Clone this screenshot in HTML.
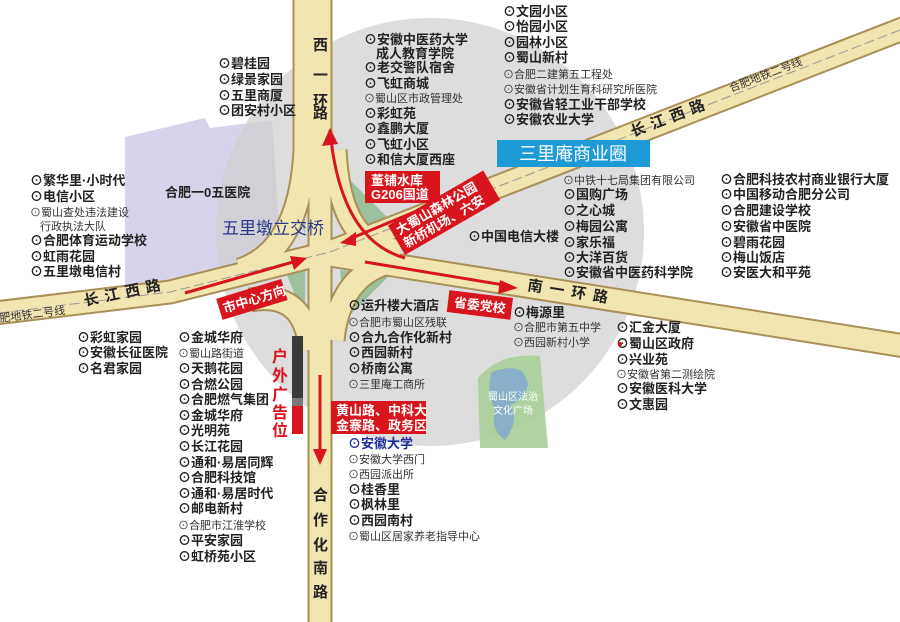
<!DOCTYPE html>
<html><head><meta charset="utf-8"><style>
html,body{margin:0;padding:0;background:#fff;}
svg{display:block}
text{font-family:"Liberation Sans","Noto Sans CJK SC",sans-serif;}
.b{font-size:13px;font-weight:bold;fill:#222}
.s{font-size:11px;fill:#333}
.w{font-weight:bold;fill:#fff;font-size:13px}
.r{font-size:15px;font-weight:bold;fill:#222}
</style></head><body>
<svg width="900" height="622" viewBox="0 0 900 622" xmlns="http://www.w3.org/2000/svg">
<rect width="900" height="622" fill="#fff"/>
<polygon points="125,137 205,118 210,128 272,120 282,275 125,288" fill="#d7d3ea"/>
<circle cx="430" cy="232" r="214" fill="#cfcfcf" opacity="0.7"/>
<path d="M478,378 Q500,352 540,356 L548,448 L480,448 Z" fill="#a9cf98" opacity="0.9"/>
<path d="M492,372 Q525,360 528,385 Q525,400 510,405 Q520,420 505,440 Q490,430 495,410 Q485,390 492,372Z" fill="#7ea7d2" opacity="0.8"/>
<text x="513" y="400" font-size="10" fill="#fff" text-anchor="middle">蜀山区法治</text>
<text x="513" y="414" font-size="10" fill="#fff" text-anchor="middle">文化广场</text>
<g fill="#9cbf9e">
<path d="M290,185 L305,180 L305,235 Z"/><path d="M340,170 L350,230 L395,225 Z"/>
<path d="M285,270 L305,270 L305,320 Z"/><path d="M340,270 L390,275 L345,320 Z"/>
</g>
<g stroke="#a89058" stroke-width="25" fill="none" stroke-linejoin="round">
<polyline points="-5,313 170,292 330,252 905,28"/>
<polyline points="330,255 905,346"/>
<line x1="320" y1="-5" x2="320" y2="630"/>
<path d="M240,270 Q300,250 305,150 L305,0"/>
<path d="M400,250 Q340,250 335,150"/>
<path d="M250,300 Q305,290 310,350"/>
<path d="M400,260 Q340,270 333,340"/>
</g>
<g stroke="#f2e6b0" stroke-width="21" fill="none" stroke-linejoin="round">
<polyline points="-5,313 170,292 330,252 905,28"/>
<polyline points="330,255 905,346"/>
<line x1="320" y1="-5" x2="320" y2="630"/>
<path d="M240,270 Q300,250 305,150 L305,0"/>
<path d="M400,250 Q340,250 335,150"/>
<path d="M250,300 Q305,290 310,350"/>
<path d="M400,260 Q340,270 333,340"/>
</g>
<polyline points="0,313 170,292 330,252 900,30" stroke="#999" stroke-width="1" stroke-dasharray="10,4" fill="none"/>
<g class="r">
<text x="313" y="50">西</text><text x="313" y="80">一</text><text x="313" y="106">环</text><text x="313" y="118">路</text>
<text x="313" y="500">合</text><text x="313" y="525">作</text><text x="313" y="550">化</text><text x="313" y="573">南</text><text x="313" y="597">路</text>
</g>
<text class="r" transform="translate(85,306) rotate(-12)" letter-spacing="6">长江西路</text>
<text class="r" transform="translate(633,137) rotate(-21)" letter-spacing="6">长江西路</text>
<text class="r" transform="translate(527,290) rotate(9)" letter-spacing="7">南一环路</text>
<text class="s" fill="#666" transform="translate(0,322) rotate(-7)">肥地铁二号线</text>
<text class="s" fill="#666" transform="translate(731,92) rotate(-21)">合肥地铁二号线</text>
<g stroke="#d8141c" stroke-width="3" fill="none">
<path d="M405,258 Q340,240 330,130"/>
<line x1="448" y1="198" x2="347" y2="240"/>
<line x1="185" y1="293" x2="300" y2="260"/>
<line x1="365" y1="262" x2="510" y2="286"/>
<line x1="320" y1="375" x2="320" y2="455"/>
</g>
<g fill="#d8141c">
<polygon points="330,128 322,146 338,144"/>
<polygon points="340,243 356,232 356,246"/>
<polygon points="307,258 290,256 294,270"/>
<polygon points="518,288 500,280 498,294"/>
<polygon points="320,465 313,449 327,449"/>
</g>
<rect x="365" y="171" width="75" height="32" fill="#d8141c"/>
<text class="w" x="371" y="185" font-size="12">董铺水库</text><text class="w" x="371" y="199" font-size="12">G206国道</text>
<g transform="translate(405,255) rotate(-30)"><rect x="0" y="-34" width="110" height="34" fill="#d8141c"/>
<text class="w" x="5" y="-20" font-size="12">大蜀山森林公园</text><text class="w" x="5" y="-5" font-size="12">新桥机场、六安</text></g>
<g transform="translate(222,318) rotate(-17)"><rect x="0" y="-20" width="68" height="22" fill="#d8141c"/>
<text class="w" x="4" y="-4" font-size="12">市中心方向</text></g>
<g transform="translate(447,310) rotate(7)"><rect x="0" y="-20" width="64" height="22" fill="#d8141c"/>
<text class="w" x="6" y="-4" font-size="13">省委党校</text></g>
<rect x="331" y="401" width="95" height="33" fill="#d8141c"/>
<text class="w" x="336" y="415" font-size="12">黄山路、中科大</text><text class="w" x="336" y="430" font-size="12">金寨路、政务区</text>
<rect x="292" y="336" width="11" height="64" fill="#3a3a3a"/><rect x="292" y="398" width="11" height="8" fill="#777"/><rect x="292" y="406" width="11" height="28" fill="#d8141c"/>
<g font-size="16" font-weight="bold"><text x="272" y="362" style="fill:#d8141c">户</text><text x="272" y="381" style="fill:#d8141c">外</text><text x="272" y="400" style="fill:#d8141c">广</text><text x="272" y="418" style="fill:#d8141c">告</text><text x="272" y="436" style="fill:#d8141c">位</text></g>
<rect x="497" y="140" width="153" height="27" fill="#1e9bd7"/>
<text x="573" y="160" text-anchor="middle" font-size="18" fill="#fff">三里庵商业圈</text>
<text x="222" y="234" font-size="17" fill="#2d3a8c">五里墩立交桥</text>
<text class="b" x="165" y="197">合肥一0五医院</text>
<g class="b">
<text x="30" y="185">⊙繁华里·小时代</text><text x="30" y="201">⊙电信小区</text>
<text x="30" y="245">⊙合肥体育运动学校</text><text x="30" y="261">⊙虹雨花园</text><text x="30" y="276">⊙五里墩电信村</text>
<text x="218" y="68">⊙碧桂园</text><text x="218" y="84">⊙绿景家园</text><text x="218" y="100">⊙五里商厦</text><text x="218" y="115">⊙团安村小区</text>
<text x="364" y="44">⊙安徽中医药大学</text><text x="376" y="58">成人教育学院</text><text x="364" y="72">⊙老交警队宿舍</text><text x="364" y="88">⊙飞虹商城</text>
<text x="364" y="118">⊙彩虹苑</text><text x="364" y="133">⊙鑫鹏大厦</text><text x="364" y="149">⊙飞虹小区</text><text x="364" y="164">⊙和信大厦西座</text>
<text x="503" y="16">⊙文园小区</text><text x="503" y="31">⊙怡园小区</text><text x="503" y="47">⊙园林小区</text><text x="503" y="62">⊙蜀山新村</text>
<text x="503" y="109">⊙安徽省轻工业干部学校</text><text x="503" y="124">⊙安徽农业大学</text>
<text x="563" y="199">⊙国购广场</text><text x="563" y="215">⊙之心城</text><text x="563" y="231">⊙梅园公寓</text><text x="563" y="247">⊙家乐福</text><text x="563" y="262">⊙大洋百货</text><text x="563" y="277">⊙安徽省中医药科学院</text>
<text x="720" y="184">⊙合肥科技农村商业银行大厦</text><text x="720" y="199">⊙中国移动合肥分公司</text><text x="720" y="215">⊙合肥建设学校</text><text x="720" y="231">⊙安徽省中医院</text><text x="720" y="247">⊙碧雨花园</text><text x="720" y="262">⊙梅山饭店</text><text x="720" y="277">⊙安医大和平苑</text>
<text x="468" y="241">⊙中国电信大楼</text>
<text x="77" y="342">⊙彩虹家园</text><text x="77" y="357">⊙安徽长征医院</text><text x="77" y="373">⊙名君家园</text>
<text x="178" y="342">⊙金城华府</text><text x="178" y="373">⊙天鹅花园</text><text x="178" y="389">⊙合燃公园</text><text x="178" y="404">⊙合肥燃气集团</text><text x="178" y="420">⊙金城华府</text><text x="178" y="435">⊙光明苑</text><text x="178" y="451">⊙长江花园</text><text x="178" y="467">⊙通和·易居同辉</text><text x="178" y="482">⊙合肥科技馆</text><text x="178" y="498">⊙通和·易居时代</text><text x="178" y="513">⊙邮电新村</text><text x="178" y="545">⊙平安家园</text><text x="178" y="561">⊙虹桥苑小区</text>
<text x="348" y="310">⊙运升楼大酒店</text><text x="348" y="342">⊙合九合作化新村</text><text x="348" y="357">⊙西园新村</text><text x="348" y="373">⊙桥南公寓</text>
<text x="348" y="448" style="fill:#1f2f9a">⊙安徽大学</text><text x="348" y="494">⊙桂香里</text><text x="348" y="509">⊙枫林里</text><text x="348" y="525">⊙西园南村</text>
<text x="513" y="317">⊙梅源里</text>
<text x="616" y="332">⊙汇金大厦</text><text x="616" y="348">⊙蜀山区政府</text><text x="616" y="364">⊙兴业苑</text><text x="616" y="393">⊙安徽医科大学</text><text x="616" y="409">⊙文惠园</text>
</g>
<g class="s">
<text x="30" y="216">⊙蜀山查处违法建设</text><text x="40" y="230">行政执法大队</text>
<text x="364" y="102">⊙蜀山区市政管理处</text>
<text x="503" y="78">⊙合肥二建第五工程处</text><text x="503" y="93">⊙安徽省计划生育科研究所医院</text>
<text x="563" y="184">⊙中铁十七局集团有限公司</text>
<text x="178" y="357">⊙蜀山路街道</text><text x="178" y="529">⊙合肥市江淮学校</text>
<text x="348" y="326">⊙合肥市蜀山区残联</text><text x="348" y="388">⊙三里庵工商所</text>
<text x="348" y="463">⊙安徽大学西门</text><text x="348" y="478">⊙西园派出所</text><text x="348" y="540">⊙蜀山区居家养老指导中心</text>
<text x="513" y="331">⊙合肥市第五中学</text><text x="513" y="346">⊙西园新村小学</text>
<text x="616" y="378">⊙安徽省第二测绘院</text>
</g>
<circle cx="620" cy="344" r="2" fill="#d8141c"/>
</svg>
</body></html>
